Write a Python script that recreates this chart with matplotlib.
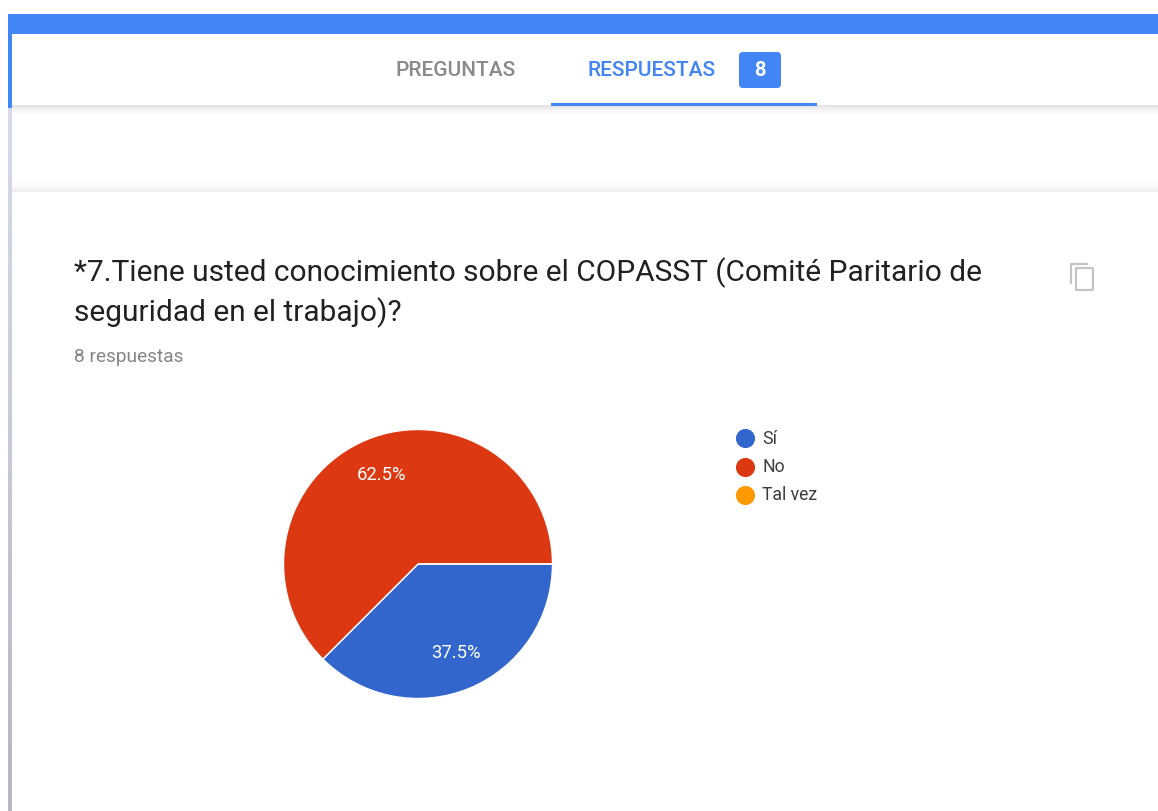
import matplotlib
matplotlib.use("Agg")
import matplotlib.pyplot as plt
import numpy as np
from matplotlib.colors import LinearSegmentedColormap
from matplotlib.patches import FancyBboxPatch, Rectangle

plt.rcParams['font.family'] = ['Roboto', 'DejaVu Sans']

W, H = 1158, 811
BLUE = "#4285f4"

categories = ["Sí", "No", "Tal vez"]
values = [37.5, 62.5, 0.0]
colors = ["#3366cc", "#dc3912", "#ff9900"]
pct_labels = ["37.5%", "62.5%"]
tabs = ["PREGUNTAS", "RESPUESTAS"]
badge = "8"
title_lines = ["*7.Tiene usted conocimiento sobre el COPASST (Comité Paritario de",
               "seguridad en el trabajo)?"]
subtitle = "8 respuestas"

fig = plt.figure(figsize=(W / 100, H / 100), dpi=100)
ax = fig.add_axes([0, 0, 1, 1])
ax.axis("off")

# page frame
ax.add_patch(Rectangle((8, 14), W - 8, 20, color=BLUE, lw=0))
ax.add_patch(Rectangle((8, 14), 4, 94, color=BLUE, lw=0))
strip = np.linspace(0, 1, 64).reshape(-1, 1)
ax.imshow(strip, extent=(8, 12, H, 108), cmap=LinearSegmentedColormap.from_list(
    "strip", ["#d5dbe8", "#b4b8c4"]), aspect="auto", zorder=2)

# soft shadows under the tab bar and above the card
shadow = np.linspace(0, 1, 32).reshape(-1, 1)
ax.imshow(shadow, extent=(12, W, 115, 105), cmap=LinearSegmentedColormap.from_list(
    "s1", ["#e2e2e2", "#f4f4f4", "#ffffff"]), aspect="auto", zorder=1)
ax.imshow(shadow, extent=(12, W, 192, 180), cmap=LinearSegmentedColormap.from_list(
    "s2", ["#ffffff", "#fafafa", "#eeeeee"]), aspect="auto", zorder=1)
ax.set_xlim(0, W)
ax.set_ylim(H, 0)

# tabs
ax.text(456, 70, tabs[0], color="#8a8a8a", fontsize=15, fontweight="medium", ha="center", va="center")
ax.text(651.5, 70, tabs[1], color=BLUE, fontsize=15, fontweight="medium", ha="center", va="center")
ax.add_patch(FancyBboxPatch((739, 52), 42, 36, boxstyle="round,pad=0,rounding_size=4", color=BLUE, lw=0))
ax.text(760, 70, badge, color="white", fontsize=14.5, fontweight="bold", ha="center", va="center")
ax.add_patch(Rectangle((551, 103), 266, 3, color=BLUE, lw=0, zorder=3))

# question text
ax.text(74, 273, title_lines[0], color="#212121", fontsize=21.5, ha="left", va="center")
ax.text(74, 313, title_lines[1], color="#212121", fontsize=21.5, ha="left", va="center")
ax.text(74, 357, subtitle, color="#858585", fontsize=13.8, ha="left", va="center")

# copy icon
ax.add_patch(FancyBboxPatch((1076, 268), 17, 22, boxstyle="round,pad=0,rounding_size=1",
                            fc="none", ec="#c4c4c4", lw=1.6))
ax.plot([1071, 1071, 1087], [283, 264, 264], color="#c4c4c4", lw=1.6)

# pie, blue slice runs clockwise from three o'clock
cx, cy, r = 418, 564, 134.5
pie_ax = fig.add_axes([(cx - r) / W, 1 - (cy + r) / H, 2 * r / W, 2 * r / H])
pie_ax.pie(values, colors=colors, startangle=0, counterclock=False, radius=1,
           wedgeprops={"edgecolor": "white", "linewidth": 1})
pie_ax.set_xlim(-1, 1)
pie_ax.set_ylim(-1, 1)
pie_ax.text((456 - cx) / r, (cy - 653) / r, pct_labels[0], color="white", fontsize=13.3, ha="center", va="center")
pie_ax.text((381 - cx) / r, (cy - 475) / r, pct_labels[1], color="white", fontsize=13.3, ha="center", va="center")

# legend
for i, (name, col) in enumerate(zip(categories, colors)):
    y = 438 + i * 28.5
    ax.scatter([745], [y], s=190, color=col, lw=0, zorder=3)
    ax.text(762, y + 0.5, name, color="#3c3c3c", fontsize=12.7, ha="left", va="center")

fig.savefig("out.png", dpi=100, facecolor="white")
